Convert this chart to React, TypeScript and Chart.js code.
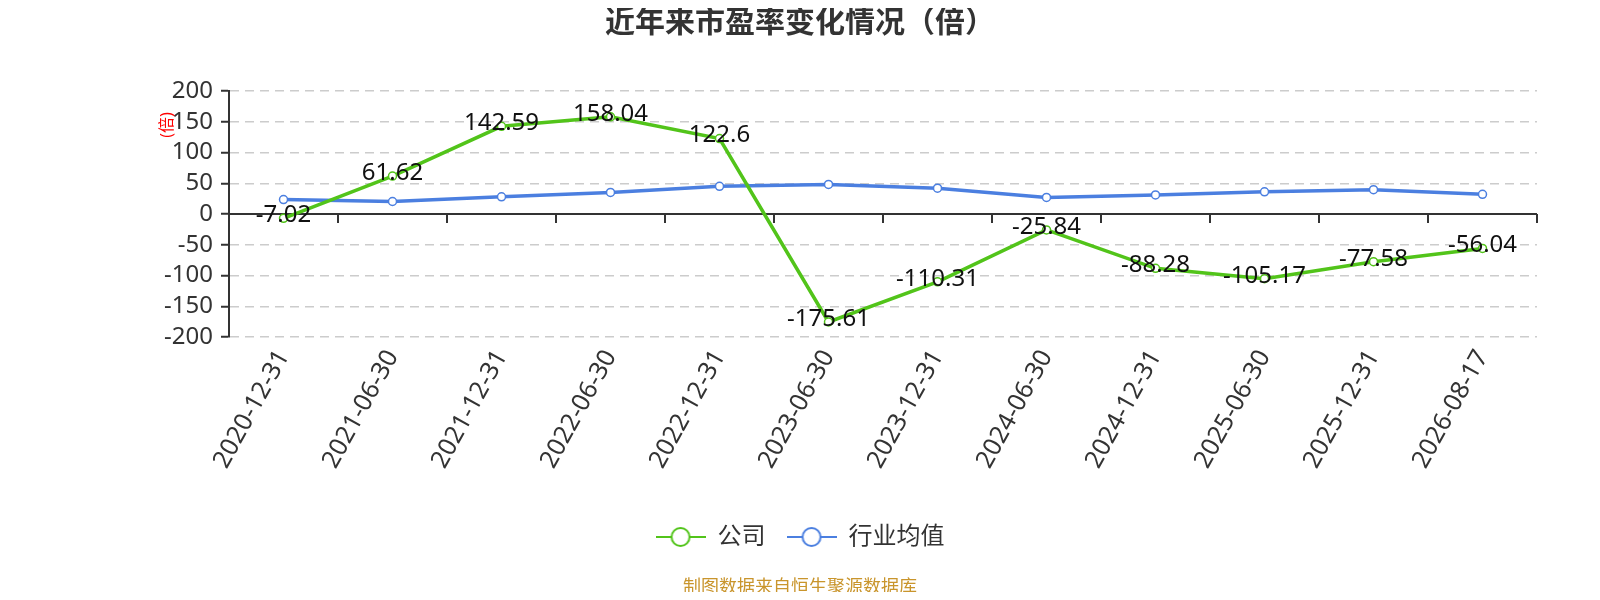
import React, { useEffect, useRef } from "react"
import { Chart, registerables } from "chart.js"

Chart.register(...registerables)

const categories = [
    "2020-12-31", "2021-06-30", "2021-12-31", "2022-06-30", "2022-12-31", "2023-06-30",
    "2023-12-31", "2024-06-30", "2024-12-31", "2025-06-30", "2025-12-31", "2026-08-17",
]
const companyPE = [-7.02, 61.62, 142.59, 158.04, 122.6, -175.61, -110.31, -25.84, -88.28, -105.17, -77.58, -56.04]
const industryPE = [23.5, 20.3, 28, 35, 45, 48, 42, 27, 31, 36, 39.5, 32]
const seriesNames = ["公司", "行业均值"]
const yMin = -200
const yMax = 200
const yStep = 50

const GREEN = "#52c41a"
const BLUE = "#4b7fe0"
const FONT = '"Noto Sans", "Noto Sans CJK SC", sans-serif'

function legendMarker(color: string) {
    const c = document.createElement("canvas")
    c.width = 50
    c.height = 22
    const ctx = c.getContext("2d") as CanvasRenderingContext2D
    ctx.strokeStyle = color
    ctx.lineWidth = 2
    ctx.beginPath()
    ctx.moveTo(0, 11)
    ctx.lineTo(50, 11)
    ctx.stroke()
    ctx.beginPath()
    ctx.arc(25, 11, 9, 0, Math.PI * 2)
    ctx.fillStyle = "#fff"
    ctx.fill()
    ctx.stroke()
    return c
}

// axis line through zero with ticks at category boundaries
const zeroAxisPlugin = {
    id: "zeroAxis",
    beforeDatasetsDraw(chart: any) {
        const { ctx, chartArea, scales } = chart
        const y = scales.y.getPixelForValue(0)
        const step = (chartArea.right - chartArea.left) / categories.length
        ctx.save()
        ctx.strokeStyle = "#333"
        ctx.lineWidth = 2
        ctx.beginPath()
        ctx.moveTo(chartArea.left, y)
        ctx.lineTo(chartArea.right, y)
        for (let i = 1; i <= categories.length; i++) {
            const x = Math.round(chartArea.left + i * step)
            ctx.moveTo(x, y)
            ctx.lineTo(x, y + 9)
        }
        ctx.stroke()
        ctx.restore()
    },
}

const labelsPlugin = {
    id: "pointLabels",
    afterDatasetsDraw(chart: any) {
        const { ctx } = chart
        const meta = chart.getDatasetMeta(0)
        ctx.save()
        ctx.font = `24px ${FONT}`
        ctx.fillStyle = "#111"
        ctx.textAlign = "center"
        ctx.textBaseline = "middle"
        meta.data.forEach((pt: any, i: number) => {
            ctx.fillText(String(companyPE[i]), pt.x, pt.y - 3)
        })
        ctx.restore()
    },
    afterDraw(chart: any) {
        const { ctx, width } = chart
        ctx.save()
        ctx.translate(159, 117)
        ctx.rotate(-Math.PI / 2)
        ctx.font = `16px ${FONT}`
        ctx.fillStyle = "#ff0000"
        ctx.textAlign = "center"
        ctx.textBaseline = "middle"
        ctx.fillText("(倍)", 0, 0)
        ctx.restore()

        ctx.save()
        ctx.font = `18px ${FONT}`
        ctx.fillStyle = "#c9952c"
        ctx.textAlign = "center"
        ctx.textBaseline = "middle"
        ctx.fillText("制图数据来自恒生聚源数据库", width / 2, 580)
        ctx.restore()
    },
}

export default function App() {
    const canvasRef = useRef<HTMLCanvasElement>(null)
    const chartRef = useRef<Chart>()

    useEffect(() => {
        chartRef.current?.destroy()
        const markers = [legendMarker(GREEN), legendMarker(BLUE)]
        chartRef.current = new Chart(canvasRef.current as HTMLCanvasElement, {
            type: "line",
            data: {
                labels: categories,
                datasets: [
                    {
                        label: seriesNames[0],
                        data: companyPE,
                        borderColor: GREEN,
                        backgroundColor: "#fff",
                        borderWidth: 3.5,
                        pointRadius: 4,
                        pointBorderWidth: 1.5,
                        pointBackgroundColor: "#fff",
                        pointBorderColor: GREEN,
                        tension: 0,
                    },
                    {
                        label: seriesNames[1],
                        data: industryPE,
                        borderColor: BLUE,
                        backgroundColor: "#fff",
                        borderWidth: 3.5,
                        pointRadius: 4,
                        pointBorderWidth: 1.5,
                        pointBackgroundColor: "#fff",
                        pointBorderColor: BLUE,
                        tension: 0,
                    },
                ],
            },
            options: {
                animation: false,
                responsive: true,
                maintainAspectRatio: false,
                layout: { padding: { left: 0, right: 0, top: 0, bottom: 33 } },
                font: { family: FONT },
                plugins: {
                    tooltip: { enabled: false },
                    title: {
                        display: true,
                        text: "近年来市盈率变化情况（倍）",
                        color: "#333",
                        font: { family: FONT, size: 30, weight: "bold", lineHeight: 1 },
                        padding: { top: 0, bottom: 53 },
                    },
                    legend: {
                        position: "bottom",
                        labels: {
                            usePointStyle: true,
                            pointStyleWidth: 50,
                            padding: 21,
                            color: "#333",
                            font: { family: FONT, size: 24 },
                            generateLabels: (chart: any) =>
                                chart.data.datasets.map((ds: any, i: number) => ({
                                    text: ds.label,
                                    pointStyle: markers[i],
                                    fillStyle: "#fff",
                                    strokeStyle: ds.borderColor,
                                    lineWidth: 0,
                                    hidden: false,
                                    datasetIndex: i,
                                    fontColor: "#333",
                                })),
                        },
                    },
                },
                scales: {
                    x: {
                        offset: true,
                        grid: { display: false, drawTicks: false },
                        border: { display: false },
                        ticks: {
                            autoSkip: false,
                            minRotation: 61,
                            maxRotation: 61,
                            padding: 8,
                            color: "#333",
                            font: { family: FONT, size: 25 },
                        },
                        afterFit: (s: any) => { s.height = 167 },
                    },
                    y: {
                        min: yMin,
                        max: yMax,
                        grid: {
                            color: "#cccccc",
                            lineWidth: 1.5,
                            tickColor: "#333",
                            tickLength: 8,
                            tickWidth: 2,
                            tickBorderDash: [],
                        },
                        border: { display: true, color: "#333", width: 2, dash: [9, 6] },
                        ticks: {
                            stepSize: yStep,
                            autoSkip: false,
                            padding: 8,
                            color: "#333",
                            font: { family: FONT, size: 24 },
                        },
                        afterFit: (s: any) => { s.width = 221 },
                    },
                    // empty right gutter so the plot keeps its place while title and legend stay centred
                    gutter: {
                        type: "linear",
                        position: "right",
                        display: true,
                        grid: { display: false, drawTicks: false },
                        border: { display: false },
                        ticks: { display: false },
                        afterFit: (s: any) => { s.width = 55 },
                    },
                },
            } as any,
            plugins: [zeroAxisPlugin, labelsPlugin],
        })

        return () => {
            chartRef.current?.destroy()
        }
    }, [])

    return (
        <div style={{ position: "relative", width: "100%", height: "584px" }}>
            <canvas ref={canvasRef}></canvas>
        </div>
    )
}
